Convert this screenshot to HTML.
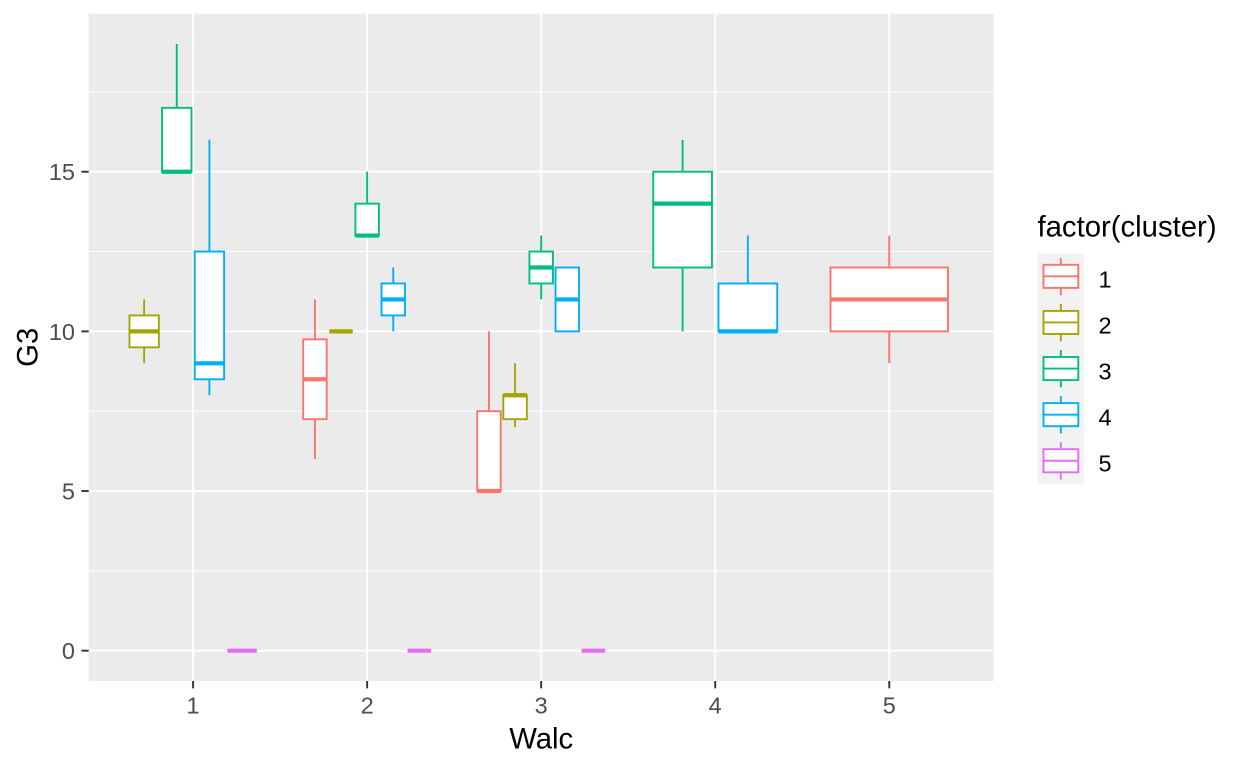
<!DOCTYPE html>
<html><head><meta charset="utf-8"><style>
html,body{margin:0;padding:0;background:#fff;}
svg{display:block;font-family:"Liberation Sans",Arial,sans-serif;}
</style></head><body>
<svg width="1248" height="768" viewBox="0 0 1248 768" xmlns="http://www.w3.org/2000/svg">
<rect x="0" y="0" width="1248" height="768" fill="#fff"/>
<!-- panel -->
<rect x="88.7" y="13.7" width="905" height="667.3" fill="#EBEBEB"/>
<g stroke="#fff" stroke-width="0.95">
<line x1="88.7" x2="993.7" y1="570.85" y2="570.85"/>
<line x1="88.7" x2="993.7" y1="411.2" y2="411.2"/>
<line x1="88.7" x2="993.7" y1="251.55" y2="251.55"/>
<line x1="88.7" x2="993.7" y1="91.9" y2="91.9"/>
</g>
<g stroke="#fff" stroke-width="1.9">
<line x1="88.7" x2="993.7" y1="650.67" y2="650.67"/>
<line x1="88.7" x2="993.7" y1="491.02" y2="491.02"/>
<line x1="88.7" x2="993.7" y1="331.37" y2="331.37"/>
<line x1="88.7" x2="993.7" y1="171.72" y2="171.72"/>
<line x1="193.1" x2="193.1" y1="13.7" y2="681"/>
<line x1="367.14" x2="367.14" y1="13.7" y2="681"/>
<line x1="541.18" x2="541.18" y1="13.7" y2="681"/>
<line x1="715.22" x2="715.22" y1="13.7" y2="681"/>
<line x1="889.26" x2="889.26" y1="13.7" y2="681"/>
</g>

<!-- Walc 1 -->
<g stroke="#A3A500" stroke-width="1.9" fill="#fff">
<line x1="144.15" x2="144.15" y1="299.44" y2="315.41"/>
<line x1="144.15" x2="144.15" y1="347.34" y2="363.3"/>
<rect x="129.47" y="315.41" width="29.37" height="31.93"/>
<line x1="129.47" x2="158.84" y1="331.37" y2="331.37" stroke-width="4.2"/>
</g>
<g stroke="#00BF7D" stroke-width="1.9" fill="#fff">
<line x1="176.78" x2="176.78" y1="43.99" y2="107.86"/>
<rect x="162.1" y="107.86" width="29.37" height="63.86"/>
<line x1="162.1" x2="191.47" y1="171.72" y2="171.72" stroke-width="4.2"/>
</g>
<g stroke="#00B0F6" stroke-width="1.9" fill="#fff">
<line x1="209.41" x2="209.41" y1="139.79" y2="251.55"/>
<line x1="209.41" x2="209.41" y1="379.27" y2="395.23"/>
<rect x="194.73" y="251.55" width="29.37" height="127.72"/>
<line x1="194.73" x2="224.1" y1="363.3" y2="363.3" stroke-width="4.2"/>
</g>
<g stroke="#E76BF3" fill="#fff">
<line x1="227.36" x2="256.73" y1="650.67" y2="650.67" stroke-width="4.2"/>
</g>

<!-- Walc 2 -->
<g stroke="#F8766D" stroke-width="1.9" fill="#fff">
<line x1="314.93" x2="314.93" y1="299.44" y2="339.35"/>
<line x1="314.93" x2="314.93" y1="419.18" y2="459.09"/>
<rect x="303.18" y="339.35" width="23.5" height="79.83"/>
<line x1="303.18" x2="326.68" y1="379.27" y2="379.27" stroke-width="4.2"/>
</g>
<g stroke="#A3A500">
<line x1="329.28" x2="352.78" y1="331.37" y2="331.37" stroke-width="4.2"/>
</g>
<g stroke="#00BF7D" stroke-width="1.9" fill="#fff">
<line x1="367.14" x2="367.14" y1="171.72" y2="203.65"/>
<rect x="355.39" y="203.65" width="23.5" height="31.93"/>
<line x1="355.39" x2="378.89" y1="235.58" y2="235.58" stroke-width="4.2"/>
</g>
<g stroke="#00B0F6" stroke-width="1.9" fill="#fff">
<line x1="393.25" x2="393.25" y1="267.51" y2="283.48"/>
<line x1="393.25" x2="393.25" y1="315.41" y2="331.37"/>
<rect x="381.5" y="283.48" width="23.5" height="31.93"/>
<line x1="381.5" x2="405" y1="299.44" y2="299.44" stroke-width="4.2"/>
</g>
<g stroke="#E76BF3">
<line x1="407.6" x2="431.1" y1="650.67" y2="650.67" stroke-width="4.2"/>
</g>

<!-- Walc 3 -->
<g stroke="#F8766D" stroke-width="1.9" fill="#fff">
<line x1="488.97" x2="488.97" y1="331.37" y2="411.2"/>
<rect x="477.22" y="411.2" width="23.5" height="79.82"/>
<line x1="477.22" x2="500.72" y1="491.02" y2="491.02" stroke-width="4.2"/>
</g>
<g stroke="#A3A500" stroke-width="1.9" fill="#fff">
<line x1="515.07" x2="515.07" y1="363.3" y2="395.23"/>
<line x1="515.07" x2="515.07" y1="419.18" y2="427.16"/>
<rect x="503.32" y="395.23" width="23.5" height="23.95"/>
<line x1="503.32" x2="526.82" y1="395.23" y2="395.23" stroke-width="4.2"/>
</g>
<g stroke="#00BF7D" stroke-width="1.9" fill="#fff">
<line x1="541.18" x2="541.18" y1="235.58" y2="251.55"/>
<line x1="541.18" x2="541.18" y1="283.48" y2="299.44"/>
<rect x="529.43" y="251.55" width="23.5" height="31.93"/>
<line x1="529.43" x2="552.93" y1="267.51" y2="267.51" stroke-width="4.2"/>
</g>
<g stroke="#00B0F6" stroke-width="1.9" fill="#fff">
<rect x="555.54" y="267.51" width="23.5" height="63.86"/>
<line x1="555.54" x2="579.04" y1="299.44" y2="299.44" stroke-width="4.2"/>
</g>
<g stroke="#E76BF3">
<line x1="581.64" x2="605.14" y1="650.67" y2="650.67" stroke-width="4.2"/>
</g>

<!-- Walc 4 -->
<g stroke="#00BF7D" stroke-width="1.9" fill="#fff">
<line x1="682.59" x2="682.59" y1="139.79" y2="171.72"/>
<line x1="682.59" x2="682.59" y1="267.51" y2="331.37"/>
<rect x="653.22" y="171.72" width="58.74" height="95.79"/>
<line x1="653.22" x2="711.96" y1="203.65" y2="203.65" stroke-width="4.2"/>
</g>
<g stroke="#00B0F6" stroke-width="1.9" fill="#fff">
<line x1="747.86" x2="747.86" y1="235.58" y2="283.48"/>
<rect x="718.49" y="283.48" width="58.74" height="47.89"/>
<line x1="718.49" x2="777.23" y1="331.37" y2="331.37" stroke-width="4.2"/>
</g>

<!-- Walc 5 -->
<g stroke="#F8766D" stroke-width="1.9" fill="#fff">
<line x1="889.26" x2="889.26" y1="235.58" y2="267.51"/>
<line x1="889.26" x2="889.26" y1="331.37" y2="363.3"/>
<rect x="830.52" y="267.51" width="117.48" height="63.86"/>
<line x1="830.52" x2="948" y1="299.44" y2="299.44" stroke-width="4.2"/>
</g>

<!-- axis ticks -->
<g stroke="#333" stroke-width="1.9">
<line x1="81.4" x2="88.7" y1="650.67" y2="650.67"/>
<line x1="81.4" x2="88.7" y1="491.02" y2="491.02"/>
<line x1="81.4" x2="88.7" y1="331.37" y2="331.37"/>
<line x1="81.4" x2="88.7" y1="171.72" y2="171.72"/>
<line x1="193.1" x2="193.1" y1="681" y2="688.3"/>
<line x1="367.14" x2="367.14" y1="681" y2="688.3"/>
<line x1="541.18" x2="541.18" y1="681" y2="688.3"/>
<line x1="715.22" x2="715.22" y1="681" y2="688.3"/>
<line x1="889.26" x2="889.26" y1="681" y2="688.3"/>
</g>
<g fill="#4D4D4D" font-size="23.5" text-anchor="end">
<text x="75" y="659.1">0</text>
<text x="75" y="499.4">5</text>
<text x="75" y="339.8">10</text>
<text x="75" y="180.1">15</text>
</g>
<g fill="#4D4D4D" font-size="23.5" text-anchor="middle">
<text x="193.1" y="713.3">1</text>
<text x="367.14" y="713.3">2</text>
<text x="541.18" y="713.3">3</text>
<text x="715.22" y="713.3">4</text>
<text x="889.26" y="713.3">5</text>
</g>
<text x="541.2" y="748.3" font-size="29.3" text-anchor="middle" fill="#000">Walc</text>
<text transform="translate(37.3,347.3) rotate(-90)" x="0" y="0" font-size="29.3" text-anchor="middle" fill="#000">G3</text>

<!-- legend -->
<text x="1037.5" y="236.7" font-size="29.3" fill="#000">factor(cluster)</text>
<rect x="1037.7" y="253.3" width="46.1" height="230.5" fill="#F2F2F2"/>
<g stroke-width="1.9" fill="#fff">
<g stroke="#F8766D">
<line x1="1060.85" x2="1060.85" y1="257.9" y2="295.2"/>
<rect x="1043.5" y="264.8" width="34.8" height="23.1"/>
<line x1="1043.5" x2="1078.3" y1="276.35" y2="276.35"/>
</g>
<g stroke="#A3A500" transform="translate(0,46.1)">
<line x1="1060.85" x2="1060.85" y1="257.9" y2="295.2"/>
<rect x="1043.5" y="264.8" width="34.8" height="23.1"/>
<line x1="1043.5" x2="1078.3" y1="276.35" y2="276.35"/>
</g>
<g stroke="#00BF7D" transform="translate(0,92.2)">
<line x1="1060.85" x2="1060.85" y1="257.9" y2="295.2"/>
<rect x="1043.5" y="264.8" width="34.8" height="23.1"/>
<line x1="1043.5" x2="1078.3" y1="276.35" y2="276.35"/>
</g>
<g stroke="#00B0F6" transform="translate(0,138.3)">
<line x1="1060.85" x2="1060.85" y1="257.9" y2="295.2"/>
<rect x="1043.5" y="264.8" width="34.8" height="23.1"/>
<line x1="1043.5" x2="1078.3" y1="276.35" y2="276.35"/>
</g>
<g stroke="#E76BF3" transform="translate(0,184.4)">
<line x1="1060.85" x2="1060.85" y1="257.9" y2="295.2"/>
<rect x="1043.5" y="264.8" width="34.8" height="23.1"/>
<line x1="1043.5" x2="1078.3" y1="276.35" y2="276.35"/>
</g>
</g>
<g fill="#000" font-size="23.5">
<text x="1098.5" y="287.3">1</text>
<text x="1098.5" y="333.4">2</text>
<text x="1098.5" y="379.5">3</text>
<text x="1098.5" y="425.6">4</text>
<text x="1098.5" y="471.7">5</text>
</g>
</svg>
</body></html>
